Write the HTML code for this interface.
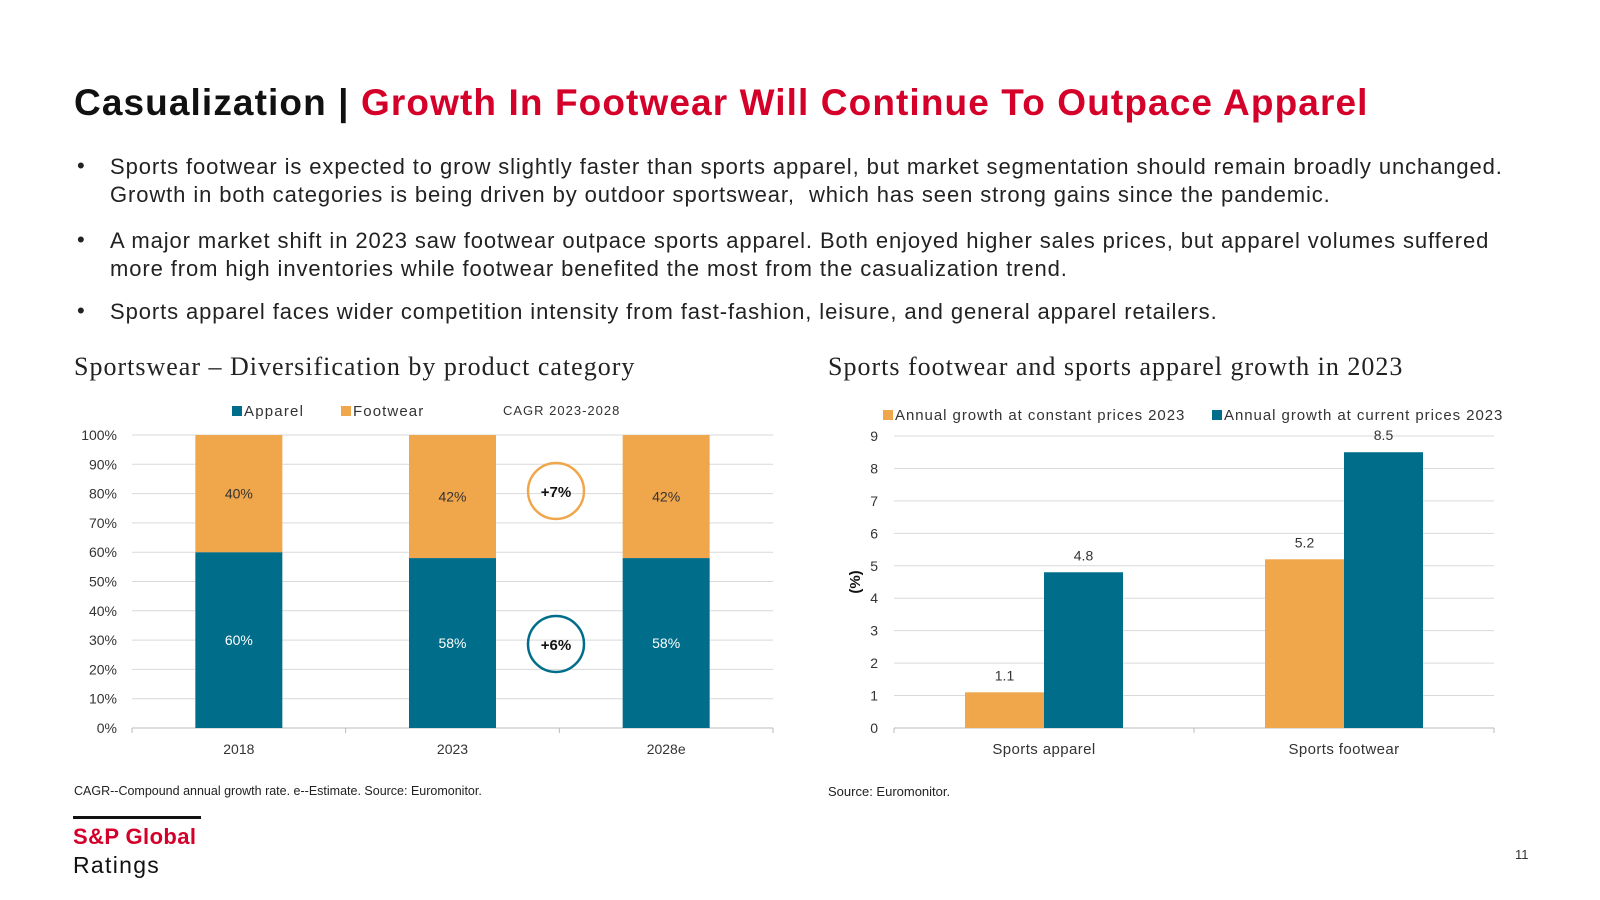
<!DOCTYPE html>
<html><head><meta charset="utf-8">
<style>
body{margin:0;background:#fff;}
#page{position:relative;width:1600px;height:900px;overflow:hidden;font-family:"Liberation Sans",sans-serif;color:#222;}
.t{position:absolute;white-space:nowrap;}
#title{left:74px;top:82px;font-size:37px;font-weight:bold;color:#111;letter-spacing:1.1px;}
#title span.r{color:#d4002a;}
.bl{position:absolute;left:77px;font-size:22px;color:#222;}
.bt{position:absolute;left:110px;font-size:22px;line-height:28px;color:#222;white-space:nowrap;letter-spacing:0.9px;}
.ct{position:absolute;top:352px;font-family:"Liberation Serif",serif;font-size:26px;color:#222;letter-spacing:1px;white-space:nowrap;}
.fn{position:absolute;top:784px;font-size:12.5px;color:#222;white-space:nowrap;}
</style></head>
<body>
<div id="page">
<div id="title" class="t">Casualization | <span class="r">Growth In Footwear Will Continue To Outpace Apparel</span></div>

<div class="bl" style="top:153px">•</div>
<div class="bt" style="top:153px">Sports footwear is expected to grow slightly faster than sports apparel, but market segmentation should remain broadly unchanged.<br>Growth in both categories is being driven by outdoor sportswear,&nbsp; which has seen strong gains since the pandemic.</div>
<div class="bl" style="top:227px">•</div>
<div class="bt" style="top:227px">A major market shift in 2023 saw footwear outpace sports apparel. Both enjoyed higher sales prices, but apparel volumes suffered<br>more from high inventories while footwear benefited the most from the casualization trend.</div>
<div class="bl" style="top:298px">•</div>
<div class="bt" style="top:298px">Sports apparel faces wider competition intensity from fast-fashion, leisure, and general apparel retailers.</div>

<div class="ct" style="left:74px">Sportswear – Diversification by product category</div>
<div class="ct" style="left:828px">Sports footwear and sports apparel growth in 2023</div>

<svg id="charts" width="1600" height="900" style="position:absolute;left:0;top:0" font-family="Liberation Sans, sans-serif"></svg>

<div class="fn" style="left:74px">CAGR--Compound annual growth rate. e--Estimate. Source: Euromonitor.</div>
<div class="fn" style="left:828px;font-size:13px">Source: Euromonitor.</div>

<div style="position:absolute;left:73px;top:816px;width:128px;height:3px;background:#111"></div>
<div class="t" style="left:73px;top:824px;font-size:22px;font-weight:bold;color:#d4002a;letter-spacing:0.4px">S&amp;P Global</div>
<div class="t" style="left:73px;top:852px;font-size:23px;color:#111;letter-spacing:1.3px">Ratings</div>
<div class="t" style="left:1515px;top:847px;font-size:13px;color:#333">11</div>
</div>
<script>
const leftCategories = ["2018","2023","2028e"];
const apparelShare = [60,58,58];
const footwearShare = [40,42,42];
const leftTicks = [0,10,20,30,40,50,60,70,80,90,100];
const rightCategories = ["Sports apparel","Sports footwear"];
const constantGrowth = [1.1,5.2];
const currentGrowth = [4.8,8.5];
const rightTicks = [0,1,2,3,4,5,6,7,8,9];

const TEAL="#006e8a", ORANGE="#f0a64a";
const svg=document.getElementById('charts');
const NS="http://www.w3.org/2000/svg";
function mk(tag,attrs,parent){const e=document.createElementNS(NS,tag);for(const k in attrs)e.setAttribute(k,attrs[k]);(parent||svg).appendChild(e);return e;}
function txt(x,y,s,attrs){const e=mk('text',Object.assign({x:x,y:y},attrs||{}));e.textContent=s;return e;}

// LEFT chart
const L={x0:132,x1:773,y0:728,y1:435};
const ly=v=>L.y0-(v/100)*(L.y0-L.y1);
const lband=(L.x1-L.x0)/leftCategories.length;
const lx=i=>L.x0+lband*(i+0.5);
leftTicks.forEach(t=>{
  const g=mk('line',{x1:L.x0,x2:L.x1,y1:ly(t),y2:ly(t),stroke:t===0?'#bbb':'#d9d9d9','stroke-width':1});
  
  
  const l=txt(117,ly(t)+5,t+'%',{'text-anchor':'end','font-size':14,fill:'#333'});
  
  
});
for(let i=0;i<=leftCategories.length;i++){
  const tk=mk('line',{x1:L.x0+lband*i,x2:L.x0+lband*i,y1:L.y0,y2:L.y0+5,stroke:'#bbb'});
  
  
}
const bw=87;
leftCategories.forEach((c,i)=>{
  const cx=lx(i);
  const a=mk('rect',{x:cx-bw/2,y:ly(apparelShare[i]),width:bw,height:L.y0-ly(apparelShare[i]),fill:TEAL});
  
  
  const top=apparelShare[i]+footwearShare[i];
  const f=mk('rect',{x:cx-bw/2,y:ly(top),width:bw,height:ly(apparelShare[i])-ly(top),fill:ORANGE});
  
  
  const la=txt(cx,ly(apparelShare[i]/2)+5,apparelShare[i]+'%',{'text-anchor':'middle','font-size':14,fill:'#fff'});
  
  
  const lf=txt(cx,ly(apparelShare[i]+footwearShare[i]/2)+5,footwearShare[i]+'%',{'text-anchor':'middle','font-size':14,fill:'#333'});
  
  
  const xl=txt(cx,754,c,{'text-anchor':'middle','font-size':14,fill:'#333'});
  
  
});
// legend left
let r=mk('rect',{x:232,y:406,width:10,height:10,fill:TEAL});

let t=txt(244,416,'Apparel',{'font-size':15,fill:'#333','letter-spacing':1.2});

r=mk('rect',{x:341,y:406,width:10,height:10,fill:ORANGE});

t=txt(353,416,'Footwear',{'font-size':15,fill:'#333','letter-spacing':1.1});

t=txt(503,415,'CAGR  2023-2028',{'font-size':13,fill:'#333','letter-spacing':1});

// CAGR circles
let c1=mk('ellipse',{cx:556,cy:491,rx:28,ry:28,fill:'none',stroke:ORANGE,'stroke-width':2.5});

t=txt(556,497,'+7%',{'text-anchor':'middle','font-size':15,'font-weight':'bold',fill:'#111'});

c1=mk('ellipse',{cx:556,cy:644,rx:28,ry:28,fill:'none',stroke:TEAL,'stroke-width':2.5});

t=txt(556,650,'+6%',{'text-anchor':'middle','font-size':15,'font-weight':'bold',fill:'#111'});


// RIGHT chart
const R={x0:894,x1:1494,y0:728,y1:436};
const ry=v=>R.y0-(v/9)*(R.y0-R.y1);
const rband=(R.x1-R.x0)/rightCategories.length;
const rx=i=>R.x0+rband*(i+0.5);
rightTicks.forEach(tk=>{
  const g=mk('line',{x1:R.x0,x2:R.x1,y1:ry(tk),y2:ry(tk),stroke:tk===0?'#bbb':'#d9d9d9','stroke-width':1});
  
  
  const l=txt(878,ry(tk)+5,String(tk),{'text-anchor':'end','font-size':14,fill:'#333'});
  
  
});
for(let i=0;i<=rightCategories.length;i++){
  const tk=mk('line',{x1:R.x0+rband*i,x2:R.x0+rband*i,y1:R.y0,y2:R.y0+5,stroke:'#bbb'});
  
  
}
const rbw=79;
rightCategories.forEach((c,i)=>{
  const cx=rx(i);
  const o=mk('rect',{x:cx-rbw,y:ry(constantGrowth[i]),width:rbw,height:R.y0-ry(constantGrowth[i]),fill:ORANGE});
  
  
  const b=mk('rect',{x:cx,y:ry(currentGrowth[i]),width:rbw,height:R.y0-ry(currentGrowth[i]),fill:TEAL});
  
  
  const l1=txt(cx-rbw/2,ry(constantGrowth[i])-12,constantGrowth[i].toFixed(1),{'text-anchor':'middle','font-size':14,fill:'#333'});
  
  
  const l2=txt(cx+rbw/2,ry(currentGrowth[i])-12,currentGrowth[i].toFixed(1),{'text-anchor':'middle','font-size':14,fill:'#333'});
  
  
  const xl=txt(cx,754,c,{'text-anchor':'middle','font-size':15,fill:'#333','letter-spacing':0.4});
  
  
});
t=txt(0,0,'(%)',{'font-size':15,'font-weight':'bold',fill:'#111','text-anchor':'middle',transform:'translate(860,582) rotate(-90)'});

r=mk('rect',{x:883,y:410,width:10,height:10,fill:ORANGE});

t=txt(895,420,'Annual growth at constant prices 2023',{'font-size':15,fill:'#333','letter-spacing':0.95});

r=mk('rect',{x:1212,y:410,width:10,height:10,fill:TEAL});

t=txt(1224,420,'Annual growth at current prices 2023',{'font-size':15,fill:'#333','letter-spacing':0.95});

</script>
</body></html>
